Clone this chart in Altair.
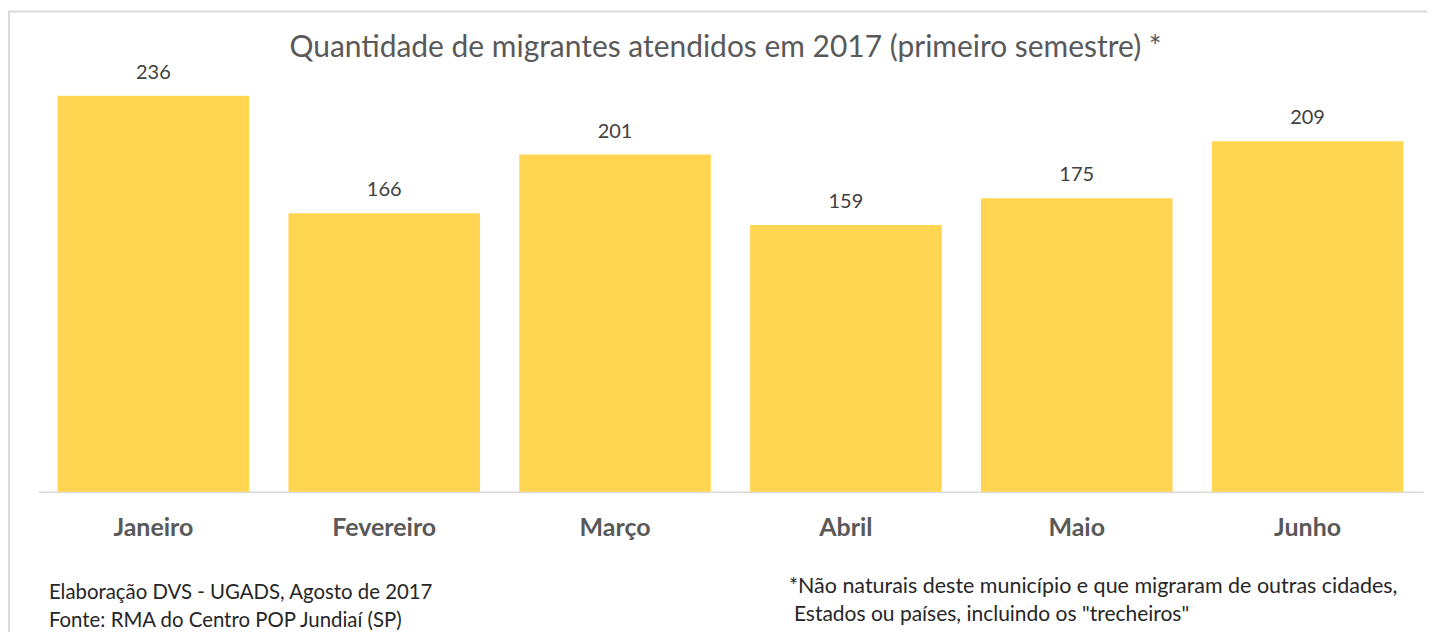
import altair as alt
import pandas as pd

months = ["Janeiro", "Fevereiro", "Março", "Abril", "Maio", "Junho"]
values = [236, 166, 201, 159, 175, 209]

title_text = "Quantidade de migrantes atendidos em 2017 (primeiro semestre) *"
note_left = ["Elaboração DVS - UGADS, Agosto de 2017", "Fonte: RMA do Centro POP Jundiaí (SP)"]
note_right = ["*Não naturais deste município e que migraram de outras cidades,",
              "Estados ou países, incluindo os \"trecheiros\""]

df = pd.DataFrame({"mes": months, "valor": values})
one = pd.DataFrame({"k": [0]})

W, H = 1387, 420
FONT = "Lato"

x_scale = alt.Scale(paddingInner=0.17, paddingOuter=0.085)
y_scale = alt.Scale(domain=[0, 250], nice=False, zero=True)

x_enc = alt.X("mes:N", sort=months, title=None, scale=x_scale,
              axis=alt.Axis(labelAngle=0, labelFont=FONT, labelFontSize=25,
                            labelFontWeight="bold", labelColor="#595959",
                            labelPadding=24, ticks=False, domainColor="#d9d9d9",
                            domainWidth=1.5, grid=False))
y_enc = alt.Y("valor:Q", scale=y_scale, axis=None)

bars = alt.Chart(df).mark_bar(color="#FFD551").encode(x=x_enc, y=y_enc)
labels = alt.Chart(df).mark_text(font=FONT, fontSize=20, color="#404040",
                                 baseline="alphabetic", dy=-17).encode(
    x=alt.X("mes:N", sort=months, scale=x_scale),
    y=alt.Y("valor:Q", scale=y_scale), text="valor:Q")

frame = alt.Chart(one).mark_rect(fill=None, stroke="#d9d9d9", strokeWidth=2).encode(
    x=alt.value(-29), x2=alt.value(W + 40), y=alt.value(-61), y2=alt.value(H + 300))

title = alt.Chart(one).mark_text(font=FONT, fontSize=30, color="#595959",
                                 align="center", baseline="alphabetic").encode(
    x=alt.value(W / 2 - 5), y=alt.value(-15), text=alt.value(title_text))

def note(text, x, y, size):
    return alt.Chart(one).mark_text(font=FONT, fontSize=size, color="#262626",
                                    align="left", baseline="alphabetic").encode(
        x=alt.value(x), y=alt.value(y), text=alt.value(text))

notes = [note(note_left[0], 11, 527, 20.4), note(note_left[1], 11, 555, 20.4),
         note(note_right[0], 752, 521, 21.5), note(note_right[1], 757, 549, 21)]

chart = alt.layer(frame, bars, labels, title, *notes).properties(
    width=W, height=H,
    autosize=alt.AutoSizeParams(type="none"),
    padding={"left": 30, "top": 64, "right": 4, "bottom": 140},
).configure(background="white").configure_view(stroke=None)

chart.save("out.html", embed_options={"renderer": "svg", "actions": False})
